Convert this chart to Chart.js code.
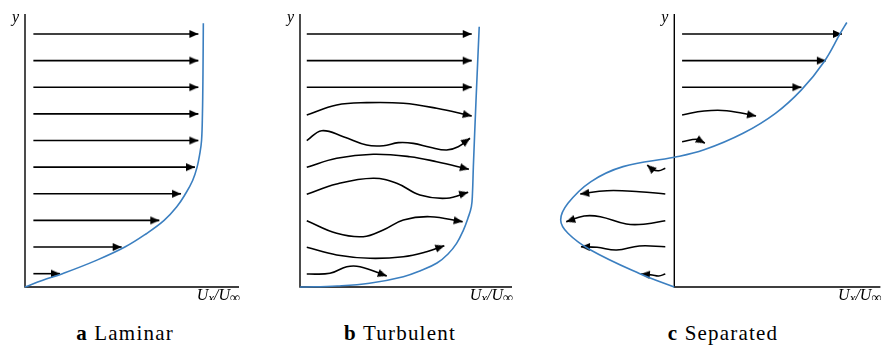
<!DOCTYPE html>
<html>
<head>
<meta charset="utf-8">
<script src="https://cdn.jsdelivr.net/npm/chart.js@4.4.0/dist/chart.umd.min.js"></script>
<style>
html, body { margin: 0; padding: 0; background: #fff; width: 886px; height: 347px; overflow: hidden; position: relative; }
canvas { position: absolute; top: 0; }
.cap { position: absolute; top: 323px; font-family: "Liberation Serif", serif; font-size: 21px; line-height: 20px; letter-spacing: 1.2px; transform: translateX(-50%); white-space: nowrap; color: #000; }
</style>
</head>
<body>
<canvas id="ca" width="260" height="300" style="left:0px"></canvas>
<canvas id="cb" width="260" height="300" style="left:270px"></canvas>
<canvas id="cc" width="350" height="300" style="left:540px"></canvas>
<div class="cap" style="left:125px"><b>a</b> Laminar</div>
<div class="cap" style="left:400px"><b>b</b> Turbulent</div>
<div class="cap" style="left:723px"><b>c</b> Separated</div>
<script>
// velocity profiles: U/Uinf against wall distance y (rows of arrows sit at y = 0.5, 1.5, ...)
var laminarY = [0, 0.25, 0.5, 1, 1.5, 2, 2.5, 3, 3.5, 4, 4.5, 5, 5.5, 6.5, 8, 9.9];
var laminarU = [0, 0.10, 0.21, 0.40, 0.56, 0.68, 0.78, 0.85, 0.90, 0.94, 0.965, 0.98, 0.99, 0.995, 0.998, 1.0];

var turbulentY = [0, 0.04, 0.14, 0.387, 0.62, 0.90, 1.24, 1.64, 2.10, 2.59, 3.02, 3.5, 4.5, 7.0, 9.77];
var turbulentU = [0, 0.21, 0.39, 0.58, 0.679, 0.769, 0.831, 0.879, 0.915, 0.943, 0.962, 0.968, 0.973, 0.988, 1.006];

var separatedY = [0, 0.51, 1.39, 2.02, 2.52, 3.14, 3.95, 4.52, 4.87, 5.15, 5.77, 6.52, 7.40, 8.46, 9.53, 9.93];
var separatedU = [0, -0.202, -0.483, -0.614, -0.656, -0.614, -0.483, -0.296, 0, 0.172, 0.397, 0.584, 0.734, 0.865, 0.959, 0.996];

// arrow rows
var rowY = [0.5, 1.5, 2.5, 3.5, 4.5, 5.5, 6.5, 7.5, 8.5, 9.5];
var laminarStart = 0.047;
var laminarTip = [0.196, 0.542, 0.753, 0.875, 0.953, 0.972, 0.972, 0.972, 0.972, 0.972];

// turbulent streaks, [U, y] from left to arrow tip
var turbulentArrows = [
  [[0.038, 0.488], [0.168, 0.514], [0.262, 0.762], [0.337, 0.762], [0.487, 0.413]],
  [[0.038, 1.491], [0.206, 1.202], [0.393, 1.078], [0.580, 1.138], [0.711, 1.326], [0.810, 1.551]],
  [[0.038, 2.490], [0.206, 2.016], [0.355, 1.889], [0.467, 2.140], [0.580, 2.516], [0.730, 2.640], [0.913, 2.452]],
  [[0.038, 3.481], [0.206, 3.868], [0.411, 4.082], [0.543, 3.894], [0.673, 3.455], [0.823, 3.331], [0.944, 3.556]],
  [[0.038, 4.495], [0.206, 4.833], [0.411, 4.983], [0.617, 4.893], [0.767, 4.705], [0.948, 4.420]],
  [[0.038, 5.494], [0.122, 5.869], [0.243, 5.644], [0.374, 5.332], [0.468, 5.306], [0.552, 5.419], [0.636, 5.394], [0.730, 5.246], [0.823, 5.145], [0.888, 5.269], [0.954, 5.584]],
  [[0.038, 6.459], [0.206, 6.834], [0.374, 6.921], [0.580, 6.898], [0.767, 6.710], [0.964, 6.421]],
  [[0.038, 7.5], [0.964, 7.5]],
  [[0.038, 8.5], [0.964, 8.5]],
  [[0.038, 9.5], [0.964, 9.5]]
];

// separated flow, reversed near the wall
var separatedArrows = [
  [[-0.052, 0.488], [-0.090, 0.413], [-0.128, 0.451], [-0.193, 0.488]],
  [[-0.052, 1.513], [-0.202, 1.540], [-0.333, 1.389], [-0.446, 1.491], [-0.539, 1.513]],
  [[-0.052, 2.490], [-0.165, 2.366], [-0.277, 2.366], [-0.427, 2.640], [-0.521, 2.666], [-0.624, 2.452]],
  [[-0.052, 3.492], [-0.202, 3.579], [-0.389, 3.616], [-0.543, 3.492]],
  [[-0.052, 4.457], [-0.090, 4.367], [-0.128, 4.420], [-0.156, 4.581]],
  [[0.045, 5.456], [0.135, 5.546], [0.176, 5.396]],
  [[0.045, 6.459], [0.172, 6.609], [0.303, 6.620], [0.472, 6.421]],
  [[0.045, 7.5], [0.734, 7.5]],
  [[0.045, 8.5], [0.875, 8.5]],
  [[0.045, 9.5], [0.968, 9.5]]
];

var laminarArrows = rowY.map(function (y, i) { return [[laminarStart, y], [laminarTip[i], y]]; });

var yMax = 10.25;
var profileColor = '#3b7fc0';

// arrowhead image, tip at the centre, pointing right
var head = document.createElement('canvas');
head.width = 22; head.height = 22;
(function () {
  var g = head.getContext('2d');
  g.fillStyle = '#000';
  g.beginPath();
  g.moveTo(11, 11);
  g.lineTo(2, 7);
  g.lineTo(2, 15);
  g.closePath();
  g.fill();
})();

function headAngle(ctx) {
  var d = ctx.dataset.data, n = d.length, c = ctx.chart;
  var a = d[n - 2], b = d[n - 1];
  var dx = c.scales.x.getPixelForValue(b.x) - c.scales.x.getPixelForValue(a.x);
  var dy = c.scales.y.getPixelForValue(b.y) - c.scales.y.getPixelForValue(a.y);
  return Math.atan2(dy, dx) * 180 / Math.PI;
}

function toPoints(list) {
  return list.map(function (p) { return { x: p[0], y: p[1] }; });
}

var axesPlugin = {
  id: 'axes',
  beforeDatasetsDraw: function (chart) {
    var ctx = chart.ctx, sx = chart.scales.x, sy = chart.scales.y;
    var x0 = sx.getPixelForValue(0), y0 = sy.getPixelForValue(0);
    var top = sy.getPixelForValue(sy.max), right = sx.getPixelForValue(sx.max);
    ctx.save();
    ctx.strokeStyle = '#000';
    ctx.lineWidth = 1.4;
    ctx.beginPath();
    ctx.moveTo(x0, top);
    ctx.lineTo(x0, y0);
    ctx.lineTo(right, y0);
    ctx.stroke();

    ctx.fillStyle = '#000';
    ctx.textBaseline = 'alphabetic';
    ctx.textAlign = 'right';
    ctx.font = 'italic 16px "Liberation Serif", serif';
    ctx.fillText('y', x0 - 6, top + 8);

    // U_x / U_inf, right aligned under the end of the axis
    var parts = [['U', 16, 0], ['x', 13, 2], ['/U', 16, 0], ['\u221E', 14, 2]];
    ctx.textAlign = 'left';
    var w = 0;
    parts.forEach(function (p) { ctx.font = 'italic ' + p[1] + 'px "Liberation Serif", serif'; w += ctx.measureText(p[0]).width; });
    var px = right + 1 - w, base = y0 + 13;
    parts.forEach(function (p) {
      ctx.font = 'italic ' + p[1] + 'px "Liberation Serif", serif';
      ctx.fillText(p[0], px, base + p[2]);
      px += ctx.measureText(p[0]).width;
    });
    ctx.restore();
  }
};

function makePanel(id, xMin, xMax, pad, profU, profY, arrows) {
  var datasets = [{
    data: profU.map(function (u, i) { return { x: u, y: profY[i] }; }),
    showLine: true,
    borderColor: profileColor,
    borderWidth: 1.6,
    pointRadius: 0,
    tension: 0.4,
    clip: false
  }];
  arrows.forEach(function (a) {
    datasets.push({
      data: toPoints(a),
      showLine: true,
      borderColor: '#000',
      borderWidth: 1.6,
      tension: 0.4,
      clip: false,
      pointStyle: head,
      pointRadius: function (ctx) { return ctx.dataIndex === a.length - 1 ? 8 : 0; },
      pointRotation: headAngle
    });
  });
  return new Chart(document.getElementById(id), {
    type: 'scatter',
    data: { datasets: datasets },
    options: {
      responsive: false,
      animation: false,
      events: [],
      layout: { padding: pad },
      plugins: { legend: { display: false }, tooltip: { enabled: false } },
      scales: {
        x: { type: 'linear', min: xMin, max: xMax, display: false },
        y: { type: 'linear', min: 0, max: yMax, display: false }
      }
    },
    plugins: [axesPlugin]
  });
}

makePanel('ca', 0, 1.2, { left: 25, right: 21, top: 14, bottom: 13 }, laminarU, laminarY, laminarArrows);
makePanel('cb', 0, 1.19, { left: 30, right: 18, top: 14, bottom: 13 }, turbulentU, turbulentY, turbulentArrows);
makePanel('cc', -0.72, 1.19, { left: 8, right: 2, top: 14, bottom: 13 }, separatedU, separatedY, separatedArrows);
</script>
</body>
</html>
